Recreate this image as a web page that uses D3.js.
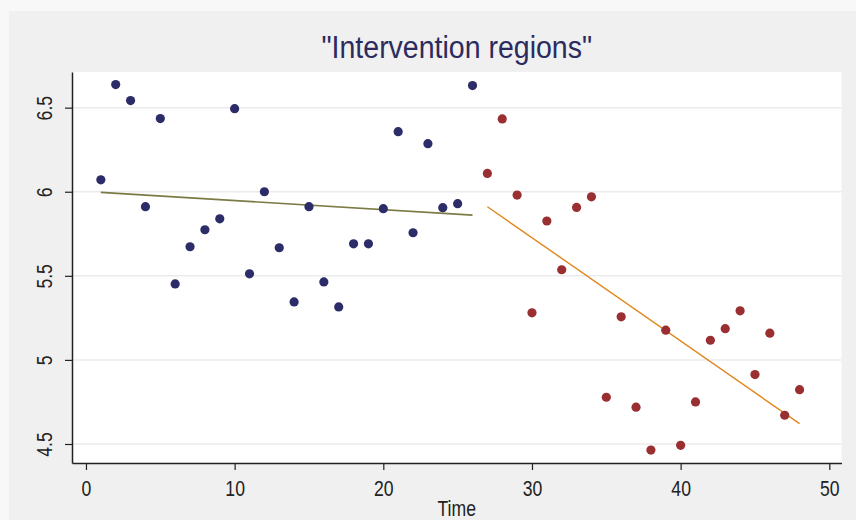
<!DOCTYPE html>
<html>
<head>
<meta charset="utf-8">
<script src="https://cdn.jsdelivr.net/npm/d3@7"></script>
<style>
  html, body { margin: 0; padding: 0; background: #f6f6f6; }
  svg { display: block; }
  text { font-family: "Liberation Sans", Arial, sans-serif; }
</style>
</head>
<body>
<script>
// ---- data ----
const preTime  = [1,2,3,4,5,6,7,8,9,10,11,12,13,14,15,16,17,18,19,20,21,22,23,24,25,26];
const preValue = [6.071,6.637,6.542,5.911,6.435,5.452,5.673,5.774,5.839,6.494,5.512,6.000,5.667,5.345,5.911,5.464,5.315,5.690,5.690,5.899,6.357,5.756,6.286,5.905,5.929,6.631];
const postTime  = [27,28,29,30,31,32,33,34,35,36,37,38,39,40,41,42,43,44,45,46,47,48];
const postValue = [6.109,6.433,5.980,5.280,5.826,5.536,5.907,5.970,4.778,5.256,4.719,4.464,5.177,4.492,4.750,5.117,5.186,5.292,4.913,5.159,4.671,4.823];
const preFitTime = [1, 26];
const preFitValue = [5.996, 5.861];
const postFitTime = [27, 48];
const postFitValue = [5.911, 4.621];
const xTicks = [0,10,20,30,40,50];
const yTicks = [4.5,5,5.5,6,6.5];
const yTickLabels = ["4.5","5","5.5","6","6.5"];
const title = "\"Intervention regions\"";
const xTitle = "Time";

// ---- layout ----
const W = 856, H = 520;
const plot = {left: 72, right: 841.5, top: 72, bottom: 463};
const narrow = 0.8;

const svg = d3.select("body").append("svg").attr("width", W).attr("height", H);

// background / outer panel
svg.append("rect").attr("x",0).attr("y",0).attr("width",W).attr("height",H).attr("fill","#f8f8f8");
svg.append("rect").attr("x",9).attr("y",11).attr("width",W-9).attr("height",H-11).attr("fill","#f0f0f0");

const x = d3.scaleLinear().domain([-0.94, 50.82]).range([plot.left, plot.right]);
const y = d3.scaleLinear().domain([4.387, 6.712]).range([plot.bottom, plot.top]);

// plot area
svg.append("rect").attr("x",plot.left).attr("y",plot.top)
  .attr("width",plot.right-plot.left).attr("height",plot.bottom-plot.top).attr("fill","#ffffff");

// gridlines
svg.append("g").selectAll("line").data(yTicks).join("line")
  .attr("x1",plot.left).attr("x2",plot.right)
  .attr("y1",d=>y(d)).attr("y2",d=>y(d))
  .attr("stroke","#ebebeb").attr("stroke-width",1.5);

// axes
const xAxis = d3.axisBottom(x).tickValues(xTicks).tickSize(7).tickPadding(0).tickSizeOuter(0);
const gx = svg.append("g").attr("transform",`translate(0,${plot.bottom})`).call(xAxis);
gx.select(".domain").attr("stroke","#222").attr("stroke-width",1.5);
gx.selectAll(".tick line").attr("stroke","#222").attr("stroke-width",1.2);
gx.selectAll(".tick text").attr("fill","#222").attr("font-size",22)
  .style("font-family",'"Liberation Sans",Arial,sans-serif')
  .attr("y",0).attr("dy",null)
  .attr("transform",`translate(0,33) scale(${narrow},1)`);

const yAxis = d3.axisLeft(y).tickValues(yTicks).tickFormat((d,i)=>yTickLabels[i]).tickSize(7).tickPadding(0).tickSizeOuter(0);
const gy = svg.append("g").attr("transform",`translate(${plot.left},0)`).call(yAxis);
gy.select(".domain").attr("stroke","#222").attr("stroke-width",1.5);
gy.selectAll(".tick line").attr("stroke","#222").attr("stroke-width",1.2);
gy.selectAll(".tick text").attr("fill","#222").attr("font-size",22)
  .style("font-family",'"Liberation Sans",Arial,sans-serif')
  .attr("text-anchor","middle").attr("x",0).attr("y",0).attr("dy",null)
  .attr("transform",`translate(-20,0) rotate(-90) scale(${narrow},1)`);

// fit lines
const line = d3.line().x(d=>x(d[0])).y(d=>y(d[1]));
svg.append("path").datum(d3.zip(preFitTime, preFitValue)).attr("d", line)
  .attr("fill","none").attr("stroke","#7b7b45").attr("stroke-width",1.6);
svg.append("path").datum(d3.zip(postFitTime, postFitValue)).attr("d", line)
  .attr("fill","none").attr("stroke","#e0861c").attr("stroke-width",1.4);

// points
svg.append("g").selectAll("circle").data(d3.zip(preTime, preValue)).join("circle")
  .attr("cx",d=>x(d[0])).attr("cy",d=>y(d[1])).attr("r",4.6).attr("fill","#2c2c68");
svg.append("g").selectAll("circle").data(d3.zip(postTime, postValue)).join("circle")
  .attr("cx",d=>x(d[0])).attr("cy",d=>y(d[1])).attr("r",4.6).attr("fill","#9a2f32");

// titles
const cx = (plot.left+plot.right)/2;
svg.append("text").attr("transform",`translate(${cx},58) scale(0.92,1)`)
  .attr("text-anchor","middle").attr("font-size",31).attr("fill","#2b2b5e").text(title);
svg.append("text").attr("transform",`translate(${cx},516) scale(${narrow},1)`)
  .attr("text-anchor","middle").attr("font-size",22).attr("fill","#222").text(xTitle);
</script>
</body>
</html>
